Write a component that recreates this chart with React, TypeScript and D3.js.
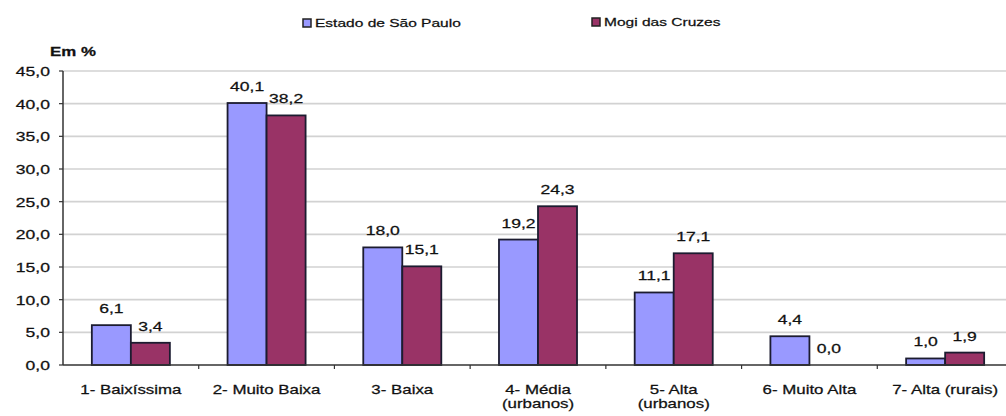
import React from "react";
import * as d3 from "d3";

const categories = [
  "1- Baixíssima",
  "2- Muito Baixa",
  "3- Baixa",
  "4- Média\n(urbanos)",
  "5- Alta\n(urbanos)",
  "6- Muito Alta",
  "7- Alta (rurais)",
];
const seriesNames = ["Estado de São Paulo", "Mogi das Cruzes"];
const estado = [6.1, 40.1, 18.0, 19.2, 11.1, 4.4, 1.0];
const mogi = [3.4, 38.2, 15.1, 24.3, 17.1, 0.0, 1.9];
const yTicks = [0, 5, 10, 15, 20, 25, 30, 35, 40, 45];

const colors = ["#9999ff", "#993366"];
const W = 1006;
const H = 416;
const left = 63;
const right = 1013;
const top = 71;
const bottom = 365;
const SX = 1.35; // text in the picture is stretched sideways
const font = "'Liberation Sans', Arial, sans-serif";

const fmt = (v: number) => v.toFixed(1).replace(".", ",");

function T({ x, y, anchor = "middle", size = 13, weight = "normal", fill = "#111", children }: any) {
  return (
    <text
      transform={`translate(${x},${y}) scale(${SX},1)`}
      textAnchor={anchor}
      fontSize={size}
      fontWeight={weight}
      fontFamily={font}
      fill={fill}
      stroke={fill}
      strokeWidth={0.25}
    >
      {children}
    </text>
  );
}

export default function App() {
  const x0 = d3.scaleBand().domain(categories).range([left, right]).padding(0);
  const bw = x0.bandwidth();
  const x1 = d3
    .scaleBand()
    .domain(seriesNames)
    .range([bw * 0.2125, bw * 0.7875])
    .padding(0);
  const y = d3.scaleLinear().domain([0, 45]).range([bottom, top]);
  const series = [estado, mogi];

  return (
    <svg width={W} height={H} style={{ position: "absolute", left: 0, top: 0, background: "#fff" }}>
      {/* legend */}
      <rect x={303} y={19} width={8} height={8} fill={colors[0]} stroke="#222" strokeWidth={1.5} />
      <T x={315} y={27} anchor="start" size={11.5}>{seriesNames[0]}</T>
      <rect x={592} y={18} width={8} height={8} fill={colors[1]} stroke="#222" strokeWidth={1.5} />
      <T x={604} y={26} anchor="start" size={11.5}>{seriesNames[1]}</T>

      <T x={50} y={56} anchor="start" size={12.5} weight="bold">Em %</T>

      {/* grid + y axis */}
      {yTicks.map((t) => (
        <g key={t}>
          {t > 0 && (
            <line x1={left} x2={W} y1={y(t)} y2={y(t)} stroke="#d2d2d2" strokeWidth={1.6} />
          )}
          <line x1={left - 4} x2={left} y1={y(t)} y2={y(t)} stroke="#333" strokeWidth={1.2} />
          <T x={50} y={y(t) + 5} anchor="end" size={13}>{fmt(t)}</T>
        </g>
      ))}
      <line x1={left} x2={left} y1={top} y2={bottom} stroke="#333" strokeWidth={1.5} />

      {/* bars */}
      {categories.map((c, i) => (
        <g key={c}>
          {series.map((s, j) => {
            const bx = (x0(c) as number) + (x1(seriesNames[j]) as number);
            const by = y(s[i]);
            return (
              <g key={j}>
                <rect
                  x={bx}
                  y={by}
                  width={x1.bandwidth()}
                  height={bottom - by}
                  fill={colors[j]}
                  stroke="#1c1c30"
                  strokeWidth={1.8}
                />
                <T x={bx + x1.bandwidth() / 2} y={by - 12} size={13}>{fmt(s[i])}</T>
              </g>
            );
          })}
        </g>
      ))}

      {/* x axis */}
      <line x1={left} x2={W} y1={bottom} y2={bottom} stroke="#333" strokeWidth={1.5} />
      {categories.map((c, i) => (
        <line
          key={"t" + i}
          x1={(x0(c) as number) + bw}
          x2={(x0(c) as number) + bw}
          y1={bottom}
          y2={bottom + 4}
          stroke="#333"
          strokeWidth={1.2}
        />
      ))}
      {categories.map((c) =>
        c.split("\n").map((line, k) => (
          <T key={c + k} x={(x0(c) as number) + bw / 2} y={394 + k * 14} size={12.5}>
            {line}
          </T>
        ))
      )}
    </svg>
  );
}
